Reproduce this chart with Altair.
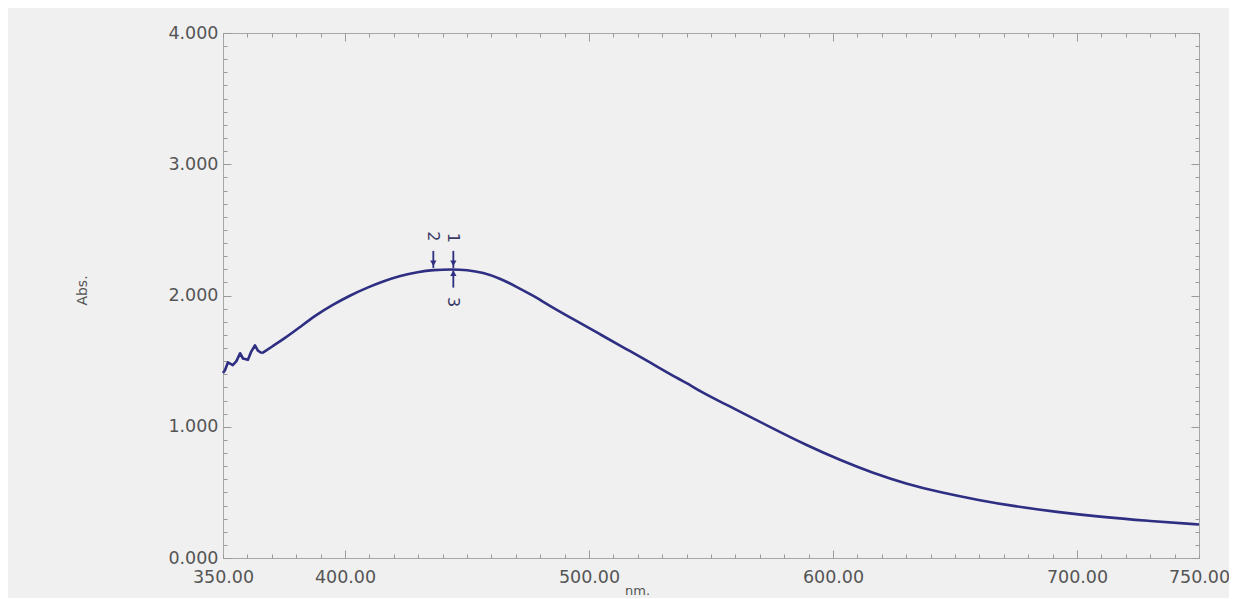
import altair as alt
import pandas as pd

# ---- spectrum data ----
# noisy start of the scan
noisy_nm = [350, 350.8, 352, 354, 355.5, 357, 358.2, 360.2, 361.5, 363.1, 364.3, 366]
noisy_abs = [1.41, 1.43, 1.49, 1.47, 1.50, 1.56, 1.52, 1.51, 1.57, 1.62, 1.58, 1.56]
# smooth remainder
smooth_nm = [366, 370, 375, 381.6, 388, 395, 402, 409, 416, 422.5, 430, 436, 444, 450,
             456.6, 463.5, 470, 477, 484, 494, 504.5, 515, 525, 537, 540, 545.5, 555,
             563, 575, 589, 603, 616, 630, 644, 660, 674, 692, 709, 729, 750]
smooth_abs = [1.56, 1.61, 1.67, 1.76, 1.85, 1.93, 2.00, 2.06, 2.11, 2.15, 2.18, 2.195, 2.20, 2.195,
              2.175, 2.13, 2.07, 2.00, 1.92, 1.815, 1.705, 1.595, 1.49, 1.36, 1.335, 1.27, 1.18,
              1.105, 0.99, 0.86, 0.745, 0.65, 0.565, 0.50, 0.44, 0.395, 0.35, 0.315, 0.283, 0.255]

# ---- peak pick markers ----
marker_labels = ["1", "2", "3"]
marker_nm = [444.4, 436.2, 444.4]
arrow_from = [2.34, 2.34, 2.06]
arrow_to = [2.21, 2.21, 2.19]
arrow_head = [2.245, 2.245, 2.17]
arrow_dir = ["down", "down", "up"]
label_y = [2.44, 2.45, 1.95]

# ---- axis values ----
x_label_values = [350, 400, 500, 600, 700, 750]
y_label_values = [0, 1, 2, 3, 4]
x_minor_values = list(range(350, 751, 10))
y_minor_values = [round(i * 0.1, 1) for i in range(41)]

noisy = pd.DataFrame({"nm": noisy_nm, "abs": noisy_abs})
smooth = pd.DataFrame({"nm": smooth_nm, "abs": smooth_abs})
marks = pd.DataFrame({"label": marker_labels, "nm": marker_nm, "y0": arrow_from,
                      "y1": arrow_to, "yh": arrow_head, "dir": arrow_dir, "ly": label_y})

LINE = "#2e2e82"
GRAY = "#555555"
TICK = "#9a9a9a"
FONT = "DejaVu Sans"

xscale = alt.Scale(domain=[350, 750], nice=False, zero=False)
yscale = alt.Scale(domain=[0, 4], nice=False, zero=False)

x_tick_size = {"condition": {"test": "datum.value % 100 === 0", "value": 8}, "value": 4}
y_tick_size = {"condition": {"test": "abs(datum.value - round(datum.value)) < 0.001", "value": 8}, "value": 4}

# smooth line + label axes
line = alt.Chart(smooth).mark_line(color=LINE, strokeWidth=2.6, interpolate="basis").encode(
    x=alt.X("nm:Q", scale=xscale, axis=alt.Axis(
        orient="bottom", values=x_label_values, format=".2f", ticks=False, domain=False,
        grid=False, labelFont=FONT, labelFontSize=17.5, labelColor=GRAY, labelPadding=10,
        labelFlush=False, labelOverlap=False,
        title="nm.", titleFont=FONT, titleFontSize=13, titleFontWeight="normal",
        titleColor=GRAY, titleX=414, titleY=26, titleBaseline="top", titleAlign="center")),
    y=alt.Y("abs:Q", scale=yscale, axis=alt.Axis(
        orient="left", values=y_label_values, format=".3f", ticks=False, domain=False,
        grid=False, labelFont=FONT, labelFontSize=17.5, labelColor=GRAY, labelPadding=5,
        labelOverlap=False,
        title="Abs.", titleFont=FONT, titleFontSize=14, titleFontWeight="normal",
        titleColor=GRAY, titleX=-141, titleY=257, titleAngle=-90, titleAlign="center",
        titleBaseline="middle")),
)

noisy_line = alt.Chart(noisy).mark_line(color=LINE, strokeWidth=2.6, strokeJoin="round").encode(
    x=alt.X("nm:Q", scale=xscale, axis=None),
    y=alt.Y("abs:Q", scale=yscale, axis=None),
)

# inward ticks: bottom + left
ticks_a = alt.Chart(smooth).mark_line(strokeOpacity=0).encode(
    x=alt.X("nm:Q", scale=xscale, axis=alt.Axis(
        orient="top", offset=-525, values=x_minor_values, labels=False, domain=False,
        grid=False, tickColor=TICK, tickWidth=1, tickSize=x_tick_size, title=None)),
    y=alt.Y("abs:Q", scale=yscale, axis=alt.Axis(
        orient="right", offset=-976, values=y_minor_values, labels=False, domain=False,
        grid=False, tickColor=TICK, tickWidth=1, tickSize=y_tick_size, title=None)),
)

# inward ticks: top + right
ticks_b = alt.Chart(smooth).mark_line(strokeOpacity=0).encode(
    x=alt.X("nm:Q", scale=xscale, axis=alt.Axis(
        orient="bottom", offset=-525, values=x_minor_values, labels=False, domain=False,
        grid=False, tickColor=TICK, tickWidth=1, tickSize=x_tick_size, title=None)),
    y=alt.Y("abs:Q", scale=yscale, axis=alt.Axis(
        orient="left", offset=-976, values=y_minor_values, labels=False, domain=False,
        grid=False, tickColor=TICK, tickWidth=1, tickSize=y_tick_size, title=None)),
)

arrows = alt.Chart(marks).mark_rule(color=LINE, strokeWidth=1.8).encode(
    x=alt.X("nm:Q", scale=xscale, axis=None),
    y=alt.Y("y0:Q", scale=yscale, axis=None),
    y2="y1:Q",
)

heads_down = alt.Chart(marks).transform_filter("datum.dir === 'down'").mark_point(
    shape="triangle-down", filled=True, color=LINE, size=40, opacity=1).encode(
    x=alt.X("nm:Q", scale=xscale, axis=None),
    y=alt.Y("yh:Q", scale=yscale, axis=None),
)
heads_up = alt.Chart(marks).transform_filter("datum.dir === 'up'").mark_point(
    shape="triangle-up", filled=True, color=LINE, size=40, opacity=1).encode(
    x=alt.X("nm:Q", scale=xscale, axis=None),
    y=alt.Y("yh:Q", scale=yscale, axis=None),
)

labels = alt.Chart(marks).mark_text(angle=90, font=FONT, fontSize=16, color="#3a3a66").encode(
    x=alt.X("nm:Q", scale=xscale, axis=None),
    y=alt.Y("ly:Q", scale=yscale, axis=None),
    text="label:N",
)

chart = alt.layer(line, noisy_line, ticks_a, ticks_b, arrows, heads_down, heads_up, labels).resolve_axis(
    x="independent", y="independent"
).properties(
    width=976, height=525, background="#f0f0f0",
    padding={"left": 215, "top": 25, "right": 30, "bottom": 40},
    autosize=alt.AutoSizeParams(type="none"),
).configure_view(stroke="#a8a8a8", strokeWidth=1)

chart.save("out.html", embed_options={"renderer": "svg", "actions": False})
